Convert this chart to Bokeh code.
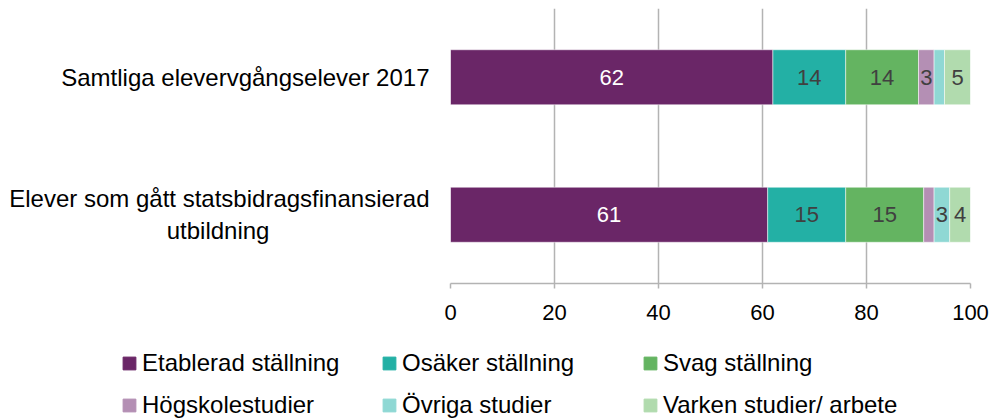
from bokeh.plotting import figure
from bokeh.models import (ColumnDataSource, FactorRange, Range1d, LabelSet, Legend, LegendItem,
                          FixedTicker)
from bokeh.layouts import column
from bokeh.core.properties import value
from bokeh.embed import file_html
from bokeh.resources import INLINE

PAD = "\u00a0" * 24
categories = ["Elever som gått statsbidragsfinansierad\nutbildning" + PAD, "Samtliga elevervgångselever 2017"]
series = ["Etablerad ställning", "Osäker ställning", "Svag ställning",
          "Högskolestudier", "Övriga studier", "Varken studier/ arbete"]
# values per category (same order as categories)
etablerad = [61, 62]
osaker = [15, 14]
svag = [15, 14]
hogskola = [2, 3]
ovriga = [3, 2]
varken = [4, 5]
colors = ["#6a2667", "#23b0a5", "#64b461", "#b48fb4", "#8fd8d4", "#b1dbae"]
label_colors = ["white", "#404040", "#404040", "#404040", "#404040", "#404040"]
xticks = [0, 20, 40, 60, 80, 100]

FONT = "Liberation Sans"
FS = "22px"
FS_BIG = "24px"

p = figure(width=993, height=330, y_range=FactorRange(factors=categories, range_padding=0),
           x_range=Range1d(0, 100), output_backend="svg", toolbar_location=None,
           min_border_left=450, min_border_right=23, min_border_top=8, min_border_bottom=47)
p.outline_line_color = None
p.frame_align = False

data = dict(cat=categories, etablerad=etablerad, osaker=osaker, svag=svag,
            hogskola=hogskola, ovriga=ovriga, varken=varken)
src = ColumnDataSource(data)
keys = ["etablerad", "osaker", "svag", "hogskola", "ovriga", "varken"]
p.hbar_stack(keys, y="cat", height=0.4, color=colors, source=src,
             line_color="white", line_width=0.5)

# labels
allvals = [etablerad, osaker, svag, hogskola, ovriga, varken]
lx, ly, lt, lc = [], [], [], []
for ci, cat in enumerate(categories):
    left = 0
    for si, vals in enumerate(allvals):
        v = vals[ci]
        if v >= 3:
            lx.append(left + v / 2)
            ly.append(cat)
            lt.append(str(v))
            lc.append(label_colors[si])
        left += v
lsrc = ColumnDataSource(dict(x=lx, y=ly, t=lt, c=lc))
p.add_layout(LabelSet(x="x", y="y", text="t", source=lsrc, text_align="center",
                      text_baseline="middle", text_color="c", text_font=value(FONT),
                      text_font_size=FS))

# axes
p.xaxis.ticker = FixedTicker(ticks=xticks)
p.xaxis.axis_line_color = "#b3b3b3"
p.xaxis.axis_line_width = 1.5
p.xaxis.major_tick_line_color = "#b3b3b3"
p.xaxis.major_tick_line_width = 1.5
p.xaxis.major_tick_in = 0
p.xaxis.major_tick_out = 5
p.xaxis.minor_tick_line_color = None
p.xaxis.major_label_text_font = FONT
p.xaxis.major_label_text_font_size = FS
p.xaxis.major_label_text_color = "black"
p.xaxis.major_label_standoff = 16

p.yaxis.axis_line_color = None
p.yaxis.major_tick_line_color = None
p.yaxis.minor_tick_line_color = None
p.yaxis.major_label_text_font = FONT
p.yaxis.major_label_text_font_size = FS_BIG
p.yaxis.major_label_text_color = "black"
p.yaxis.major_label_standoff = 15

p.xgrid.grid_line_color = "#b3b3b3"
p.xgrid.grid_line_width = 1.5
p.xgrid.ticker = FixedTicker(ticks=xticks)
p.ygrid.grid_line_color = None

# legend figure
lf = figure(width=993, height=89, y_range=FactorRange(factors=categories),
            x_range=Range1d(0, 100), output_backend="svg", toolbar_location=None,
            x_axis_location=None, y_axis_location=None,
            min_border_left=0, min_border_right=0, min_border_top=0, min_border_bottom=0)
lf.outline_line_color = None
lf.grid.visible = False
lf.frame_align = False
lrend = lf.hbar_stack(keys, y="cat", height=0.4, color=colors, source=src)
for r in lrend:
    r.visible = False

xs = [121, 381, 642]
for col in range(3):
    items = [LegendItem(label=series[col], renderers=[lrend[col]]),
             LegendItem(label=series[col + 3], renderers=[lrend[col + 3]])]
    lg = Legend(items=items, location=(xs[col], 0), orientation="vertical",
                glyph_width=16, glyph_height=16, label_height=22, spacing=14,
                label_standoff=5, padding=0, margin=0, border_line_color=None,
                background_fill_alpha=0, label_text_font=FONT, label_text_font_size=FS_BIG,
                label_text_color="black", label_text_baseline="middle")
    lf.add_layout(lg, "center")

open("out.html", "w").write(file_html(column(p, lf, spacing=0), INLINE))
